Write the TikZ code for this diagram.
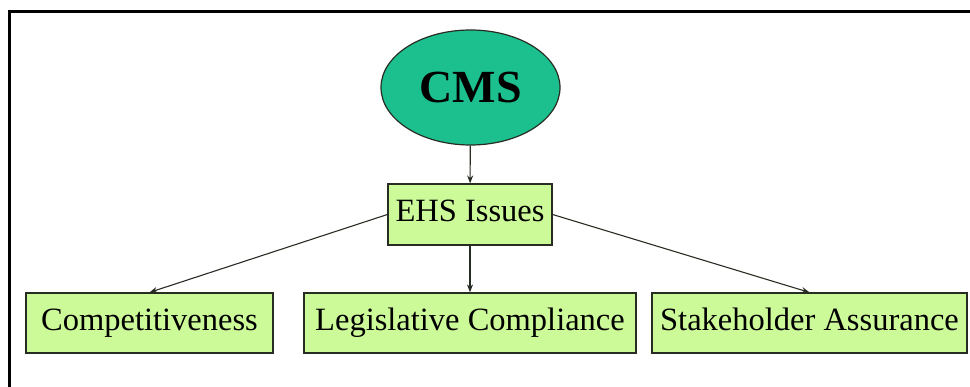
\documentclass[tikz,border=0pt]{standalone}
\usepackage{fontspec}
\setmainfont{Liberation Serif}
\usetikzlibrary{shapes.geometric,arrows.meta}
\definecolor{cmsteal}{RGB}{28,192,142}
\definecolor{boxgreen}{RGB}{204,250,153}
\definecolor{edgegray}{RGB}{40,45,35}

\begin{document}
\begin{tikzpicture}[x=1pt,y=-1pt,
  issue/.style={rectangle, draw=edgegray, fill=boxgreen, line width=1.2pt, inner sep=0pt,
    minimum height=60pt, text height=22pt, text depth=7pt, font=\fontsize{32.5}{38}\selectfont},
  link/.style={-{Stealth[length=8pt,width=6pt]}, line width=1.1pt, draw=edgegray}]
\useasboundingbox (0,0) rectangle (970,387);
\draw[line width=3pt] (970,12) -- (9,12) -- (9,387);
\node[ellipse, draw=edgegray, fill=cmsteal, line width=1.2pt, minimum width=179pt, minimum height=115pt,
      font=\fontsize{46}{50}\bfseries\selectfont] (cms) at (470.5,87.5) {CMS};
\node[issue, minimum width=164pt, minimum height=61pt] (ehs) at (470,214.5) {EHS Issues};
\node[issue, minimum width=247pt] (comp) at (149.5,323) {Competitiveness};
\node[issue, minimum width=332pt] (legis) at (470,323) {Legislative Compliance};
\node[issue, minimum width=315pt] (stake) at (809.5,323) {Stakeholder Assurance};
\draw[link] (cms) -- (ehs);
\draw[link] (ehs.west) -- (comp.north);
\draw[link] (ehs) -- (legis);
\draw[link] (ehs.east) -- (stake.north);
\end{tikzpicture}
\end{document}
